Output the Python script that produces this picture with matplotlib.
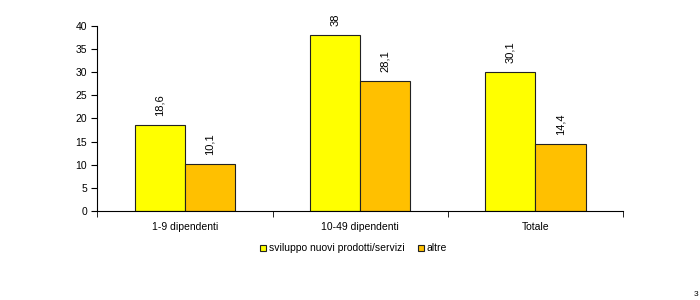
import matplotlib.pyplot as plt
import numpy as np

plt.rcParams['font.family'] = ['Liberation Sans', 'DejaVu Sans']

categorie = ["1-9 dipendenti", "10-49 dipendenti", "Totale"]
sviluppo = [18.6, 38, 30.1]
altre = [10.1, 28.1, 14.4]
etichette_sviluppo = ["18,6", "38", "30,1"]
etichette_altre = ["10,1", "28,1", "14,4"]

fig = plt.figure(figsize=(7, 3), dpi=100)
ax = fig.add_axes([0.139, 0.297, 0.751, 0.616])

x = np.arange(len(categorie))
w = 0.286
b1 = ax.bar(x - w / 2, sviluppo, w, color="#FFFF00", edgecolor="#222222",
            linewidth=0.8, label="sviluppo nuovi prodotti/servizi")
b2 = ax.bar(x + w / 2, altre, w, color="#FFC000", edgecolor="#222222",
            linewidth=0.8, label="altre")

# etichette verticali sopra le barre
for rects, testi in [(b1, etichette_sviluppo), (b2, etichette_altre)]:
    for r, t in zip(rects, testi):
        ax.text(r.get_x() + r.get_width() / 2, r.get_height() + 2.0, t,
                rotation=90, ha="center", va="bottom", fontsize=8)

ax.set_xlim(-0.5, 2.5)
ax.set_ylim(0, 40)
ax.set_yticks(range(0, 41, 5))
ax.set_xticks(x)
ax.set_xticklabels(categorie)
ax.set_xticks([-0.5, 0.5, 1.5, 2.5], minor=True)
ax.tick_params(axis="x", which="major", length=0, pad=8, labelsize=7.5)
ax.tick_params(axis="x", which="minor", length=4, direction="out")
ax.tick_params(axis="y", length=4, direction="out", labelsize=7.5)

ax.spines["top"].set_visible(False)
ax.spines["right"].set_visible(False)

fig.legend(loc="center", bbox_to_anchor=(0.505, 0.172), ncol=2, frameon=False,
           fontsize=7.5, handlelength=0.55, handleheight=0.55, handletextpad=0.3,
           columnspacing=1.3)

# numero di pagina
fig.text(0.998, 0.005, "3", fontsize=6, ha="right", va="bottom")

fig.savefig("out.png")
